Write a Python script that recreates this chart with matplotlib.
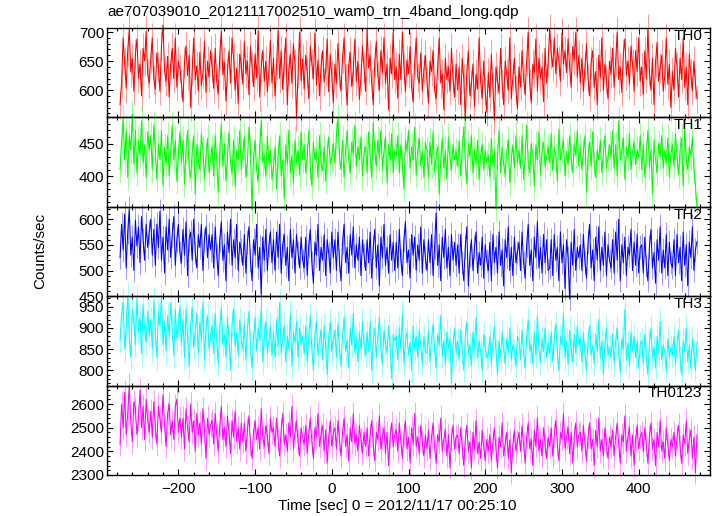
import numpy as np
import matplotlib.pyplot as plt
from matplotlib.ticker import MultipleLocator

plt.rcParams['font.family'] = ['Liberation Sans', 'DejaVu Sans']

title = "ae707039010_20121117002510_wam0_trn_4band_long.qdp"
xlabel = "Time [sec] 0 = 2012/11/17 00:25:10"
ylabel = "Counts/sec"

# time grid of the light curve (seconds from 2012/11/17 00:25:10)
t_start = -276
bin_size = 2
exposure = 1.0

th0 = [575, 612, 690, 648, 603, 668, 705, 631, 654, 598, 662, 688, 620, 645, 590, 672, 650, 701, 628, 612,
       655, 690, 618, 602, 664, 640, 598, 676, 712, 633, 615, 658, 588, 644, 672, 620, 690, 605, 650, 637,
       612, 580, 648, 676, 625, 660, 570, 633, 690, 618, 642, 598, 665, 608, 628, 684, 596, 650, 622, 668,
       640, 603, 672, 615, 594, 660, 702, 626, 648, 581, 630, 668, 612, 690, 655, 600, 638, 577, 662, 645,
       610, 684, 628, 650, 592, 675, 640, 606, 662, 621, 702, 588, 640, 668, 615, 650, 597, 633, 686, 612,
       655, 590, 642, 703, 620, 668, 601, 648, 690, 575, 636, 662, 612, 680, 645, 552, 628, 700, 616, 654,
       602, 660, 632, 585, 676, 645, 620, 698, 608, 652, 590, 640, 668, 614, 633, 688, 597, 662, 625, 578,
       645, 612, 680, 628, 598, 655, 690, 620, 574, 642, 665, 606, 632, 688, 615, 650, 584, 622, 676, 640,
       598, 705, 638, 660, 612, 575, 648, 684, 625, 600, 668, 630, 690, 612, 645, 566, 655, 628, 700, 618,
       640, 586, 662, 618, 700, 640, 597, 652, 628, 675, 605, 580, 648, 690, 622, 612, 664, 598, 635, 660,
       615, 578, 650, 632, 668, 600, 585, 642, 690, 612, 628, 566, 655, 618, 640, 598, 672, 620, 588, 645,
       600, 640, 575, 655, 620, 548, 632, 668, 590, 610, 645, 572, 628, 602, 690, 615, 585, 650, 598, 562,
       630, 588, 662, 606, 548, 640, 618, 595, 672, 612, 575, 650, 628, 600, 690, 585, 622, 655, 602, 568,
       640, 605, 668, 620, 592, 650, 700, 612, 578, 645, 630, 688, 598, 655, 620, 640, 580, 672, 612, 648,
       705, 662, 640, 690, 628, 672, 650, 615, 698, 645, 668, 630, 688, 640, 605, 675, 652, 700, 622, 660,
       612, 655, 598, 640, 680, 620, 590, 648, 668, 605, 632, 575, 660, 622, 690, 600, 645, 618, 585, 650,
       628, 672, 605, 650, 700, 618, 640, 596, 662, 688, 625, 650, 610, 676, 645, 598, 668, 632, 690, 615,
       640, 592, 668, 620, 705, 632, 600, 655, 575, 648, 682, 615, 638, 660, 598, 625, 690, 610, 645, 570,
       632, 600, 672, 640, 588, 655, 618, 690, 605, 640, 575, 662, 628, 598, 650, 612, 585]

th1 = [410, 452, 488, 425, 470, 398, 462, 440, 495, 418, 470, 405, 455, 432, 485, 420, 448, 398, 468, 440,
       462, 410, 478, 438, 395, 450, 425, 470, 385, 445, 418, 462, 400, 440, 478, 425, 455, 392, 432, 468,
       420, 455, 388, 440, 470, 412, 398, 435, 462, 372, 448, 425, 410, 465, 440, 395, 430, 458, 405, 428,
       445, 400, 462, 425, 375, 438, 480, 415, 450, 392, 430, 468, 420, 405, 455, 385, 440, 425, 470, 410,
       435, 460, 398, 420, 475, 440, 348, 428, 455, 410, 392, 445, 485, 420, 432, 400, 462, 418, 440, 395,
       412, 445, 380, 430, 462, 400, 425, 365, 448, 418, 470, 405, 432, 390, 455, 420, 440, 402, 468, 425,
       448, 405, 430, 470, 415, 385, 452, 425, 440, 398, 462, 420, 408, 445, 392, 435, 460, 418, 428, 450,
       420, 462, 488, 430, 410, 455, 398, 440, 470, 425, 405, 452, 435, 478, 415, 445, 425, 460, 400, 438,
       445, 405, 468, 430, 398, 482, 440, 415, 455, 428, 470, 410, 438, 460, 390, 448, 425, 465, 405, 440,
       430, 462, 405, 448, 420, 380, 455, 438, 470, 412, 445, 425, 475, 402, 438, 458, 415, 440, 398, 452,
       440, 398, 452, 418, 468, 405, 430, 445, 372, 425, 458, 412, 440, 395, 460, 428, 410, 448, 425, 438,
       415, 455, 400, 440, 475, 422, 388, 450, 430, 462, 405, 440, 418, 455, 395, 432, 448, 410, 440, 420,
       432, 398, 458, 415, 440, 350, 428, 470, 405, 445, 418, 402, 436, 455, 390, 425, 448, 412, 462, 420,
       440, 412, 462, 395, 430, 478, 420, 405, 450, 432, 385, 448, 425, 468, 402, 438, 452, 415, 430, 445,
       420, 465, 408, 445, 430, 392, 472, 425, 440, 455, 400, 438, 418, 462, 428, 405, 450, 432, 470, 415,
       445, 410, 438, 462, 375, 430, 452, 415, 468, 420, 398, 440, 425, 455, 405, 435, 462, 412, 428, 448,
       430, 470, 412, 448, 400, 485, 425, 440, 458, 395, 445, 428, 465, 410, 438, 452, 418, 440, 428, 462,
       410, 448, 398, 435, 470, 415, 440, 372, 455, 425, 405, 450, 430, 462, 412, 440, 420, 458, 398, 435,
       448, 415, 465, 430, 402, 440, 458, 385, 472, 425, 410, 445, 430, 460, 410, 385, 352]

th2 = [525, 590, 540, 610, 505, 575, 620, 530, 565, 500, 598, 548, 585, 515, 605, 560, 520, 590, 545, 575,
       600, 530, 580, 510, 590, 545, 615, 520, 565, 495, 585, 540, 600, 525, 570, 605, 510, 560, 590, 535,
       515, 580, 530, 595, 490, 560, 575, 520, 600, 535, 505, 570, 545, 590, 500, 560, 585, 525, 570, 540,
       570, 505, 585, 530, 490, 560, 595, 520, 550, 480, 575, 535, 600, 510, 560, 525, 590, 500, 555, 540,
       510, 570, 495, 555, 585, 520, 480, 560, 530, 590, 505, 545, 452, 565, 520, 580, 500, 550, 575, 515,
       560, 500, 575, 525, 590, 495, 550, 570, 510, 545, 480, 580, 525, 560, 495, 570, 535, 505, 565, 520,
       505, 565, 490, 550, 580, 515, 475, 555, 530, 590, 500, 545, 520, 570, 490, 560, 535, 495, 575, 525,
       560, 500, 575, 520, 480, 555, 590, 515, 545, 495, 570, 530, 585, 505, 550, 520, 565, 490, 560, 530,
       500, 560, 515, 575, 485, 545, 580, 505, 550, 470, 565, 525, 590, 510, 545, 495, 570, 520, 555, 500,
       555, 505, 580, 520, 490, 560, 595, 515, 540, 485, 570, 530, 565, 500, 550, 520, 585, 495, 560, 525,
       500, 560, 515, 570, 490, 545, 612, 510, 550, 480, 565, 525, 580, 505, 545, 490, 570, 520, 555, 510,
       550, 495, 570, 515, 480, 545, 585, 470, 530, 560, 500, 545, 575, 495, 535, 510, 565, 485, 550, 520,
       500, 555, 480, 570, 515, 545, 495, 575, 510, 540, 470, 560, 525, 585, 500, 545, 490, 565, 515, 535,
       555, 500, 575, 515, 485, 550, 590, 510, 540, 480, 565, 525, 595, 505, 545, 495, 570, 515, 560, 500,
       505, 560, 490, 570, 520, 545, 480, 575, 515, 550, 465, 560, 525, 445, 555, 510, 580, 500, 545, 525,
       550, 500, 570, 515, 485, 555, 590, 505, 540, 480, 565, 520, 585, 500, 545, 510, 575, 490, 550, 520,
       505, 560, 495, 575, 520, 600, 480, 550, 515, 565, 490, 545, 530, 580, 500, 555, 510, 570, 495, 545,
       550, 495, 565, 510, 480, 545, 580, 505, 535, 475, 560, 520, 585, 495, 540, 505, 570, 490, 555, 515,
       505, 560, 490, 570, 515, 545, 480, 575, 510, 550, 470, 555, 525, 585, 500, 540, 556]

th3 = [870, 935, 960, 850, 905, 975, 880, 830, 945, 915, 860, 970, 890, 925, 840, 955, 900, 865, 940, 880,
       920, 850, 965, 890, 830, 940, 905, 975, 860, 915, 845, 930, 880, 960, 900, 835, 945, 875, 910, 950,
       860, 920, 830, 945, 880, 810, 905, 950, 855, 890, 935, 840, 915, 870, 960, 825, 895, 930, 850, 880,
       905, 840, 935, 870, 815, 900, 950, 860, 885, 830, 925, 875, 800, 910, 945, 855, 890, 835, 920, 870,
       850, 910, 825, 895, 940, 860, 805, 880, 925, 845, 900, 870, 950, 820, 885, 915, 840, 870, 905, 835,
       890, 830, 920, 855, 960, 840, 875, 905, 820, 880, 850, 935, 810, 890, 865, 915, 830, 900, 860, 880,
       840, 905, 820, 880, 930, 850, 800, 885, 915, 835, 870, 895, 825, 905, 860, 790, 880, 915, 845, 870,
       895, 830, 910, 855, 810, 880, 925, 845, 870, 805, 900, 860, 935, 840, 875, 820, 890, 850, 915, 860,
       835, 890, 845, 915, 800, 870, 900, 830, 880, 925, 850, 815, 895, 865, 840, 905, 855, 780, 885, 870,
       880, 825, 900, 850, 935, 815, 870, 890, 835, 865, 800, 905, 850, 880, 830, 895, 860, 815, 880, 845,
       840, 895, 820, 875, 910, 850, 805, 885, 860, 930, 835, 870, 815, 890, 850, 875, 770, 860, 900, 840,
       870, 825, 895, 845, 800, 880, 915, 835, 860, 810, 890, 850, 925, 830, 870, 845, 800, 885, 855, 830,
       835, 880, 815, 865, 905, 845, 790, 870, 830, 890, 850, 815, 875, 840, 900, 825, 860, 845, 810, 880,
       870, 825, 895, 840, 805, 880, 920, 845, 860, 815, 890, 835, 930, 850, 820, 875, 845, 900, 830, 865,
       840, 890, 820, 875, 910, 845, 800, 880, 860, 935, 830, 870, 815, 895, 850, 820, 885, 840, 905, 860,
       875, 820, 890, 840, 800, 870, 905, 835, 860, 815, 885, 845, 920, 830, 870, 790, 865, 900, 835, 855,
       830, 885, 815, 870, 900, 840, 795, 875, 850, 945, 825, 865, 810, 890, 845, 880, 830, 870, 805, 860,
       870, 815, 885, 835, 790, 865, 900, 830, 855, 805, 880, 840, 915, 825, 860, 845, 800, 875, 830, 855,
       835, 880, 815, 860, 895, 830, 790, 870, 845, 900, 820, 860, 805, 875, 840, 800, 866]

th0123 = [2430, 2600, 2500, 2650, 2470, 2560, 2680, 2520, 2440, 2610, 2580, 2470, 2540, 2660, 2500, 2590, 2450, 2620, 2530, 2480,
          2570, 2460, 2610, 2500, 2430, 2590, 2540, 2480, 2640, 2510, 2420, 2560, 2600, 2470, 2530, 2450, 2590, 2620, 2480, 2540,
          2460, 2540, 2410, 2580, 2500, 2440, 2600, 2480, 2530, 2400, 2560, 2470, 2520, 2430, 2580, 2490, 2370, 2540, 2470, 2510,
          2530, 2430, 2560, 2470, 2400, 2510, 2590, 2450, 2500, 2420, 2550, 2480, 2390, 2530, 2460, 2570, 2440, 2500, 2410, 2520,
          2440, 2520, 2400, 2490, 2550, 2430, 2370, 2480, 2530, 2450, 2500, 2410, 2580, 2460, 2420, 2510, 2470, 2390, 2540, 2480,
          2500, 2420, 2540, 2450, 2380, 2490, 2560, 2430, 2470, 2400, 2520, 2460, 2590, 2410, 2480, 2530, 2440, 2380, 2500, 2460,
          2430, 2510, 2390, 2480, 2540, 2440, 2370, 2500, 2460, 2560, 2420, 2470, 2510, 2400, 2490, 2350, 2460, 2530, 2420, 2480,
          2500, 2410, 2530, 2450, 2380, 2480, 2540, 2420, 2470, 2360, 2500, 2440, 2560, 2430, 2470, 2400, 2510, 2450, 2390, 2480,
          2420, 2500, 2380, 2470, 2530, 2430, 2360, 2480, 2450, 2550, 2410, 2460, 2500, 2390, 2480, 2340, 2460, 2520, 2420, 2470,
          2490, 2400, 2520, 2440, 2370, 2470, 2530, 2410, 2460, 2350, 2500, 2430, 2560, 2420, 2460, 2390, 2510, 2440, 2380, 2470,
          2410, 2490, 2370, 2460, 2520, 2420, 2350, 2470, 2440, 2540, 2400, 2450, 2490, 2380, 2470, 2330, 2450, 2510, 2410, 2460,
          2470, 2390, 2500, 2420, 2340, 2450, 2510, 2400, 2440, 2330, 2480, 2410, 2530, 2390, 2440, 2370, 2490, 2420, 2360, 2450,
          2400, 2470, 2360, 2440, 2500, 2410, 2330, 2460, 2420, 2520, 2380, 2430, 2480, 2370, 2450, 2310, 2430, 2490, 2400, 2440,
          2480, 2400, 2510, 2430, 2350, 2460, 2520, 2410, 2450, 2340, 2490, 2420, 2540, 2400, 2450, 2380, 2500, 2430, 2370, 2460,
          2420, 2500, 2380, 2470, 2530, 2430, 2360, 2480, 2450, 2560, 2410, 2460, 2500, 2390, 2480, 2350, 2460, 2520, 2420, 2470,
          2480, 2400, 2510, 2430, 2360, 2460, 2520, 2410, 2450, 2340, 2490, 2420, 2540, 2400, 2450, 2380, 2500, 2430, 2370, 2460,
          2420, 2490, 2380, 2460, 2520, 2430, 2350, 2470, 2440, 2550, 2400, 2460, 2500, 2380, 2470, 2340, 2450, 2510, 2410, 2460,
          2480, 2400, 2500, 2430, 2350, 2460, 2520, 2410, 2450, 2340, 2480, 2420, 2530, 2400, 2440, 2370, 2500, 2430, 2360, 2450,
          2420, 2480, 2380, 2460, 2510, 2420, 2350, 2470, 2430, 2530, 2390, 2450, 2490, 2370, 2460, 2310, 2470]

names = ["TH0", "TH1", "TH2", "TH3", "TH0123"]
series = [th0, th1, th2, th3, th0123]
colors = ["#ff0000", "#00ff00", "#0000ff", "#00ffff", "#ff00ff"]
ylims = [(553, 707), (353, 490), (450, 624), (764, 975), (2300, 2678)]
ymajor = [50, 50, 50, 50, 100]
yminor = [10, 10, 10, 10, 20]

fig = plt.figure(figsize=(7.17, 5.16), dpi=100)
left, right = 107 / 717, 710 / 717
top, bottom = 1 - 28 / 516, 1 - 475 / 516
h = (top - bottom) / 5

for i in range(5):
    ax = fig.add_axes([left, top - (i + 1) * h, right - left, h])
    ax.patch.set_visible(False)
    y = np.array(series[i], dtype=float)
    t = t_start + bin_size * np.arange(len(y))
    err = np.sqrt(y / exposure)
    ax.vlines(t, y - err, y + err, colors=colors[i], alpha=0.4, lw=0.7, clip_on=False)
    ax.plot(t, y, color=colors[i], lw=0.75, clip_on=False)
    ax.set_xlim(-293, 493)
    ax.set_ylim(*ylims[i])
    ax.xaxis.set_major_locator(MultipleLocator(100))
    ax.xaxis.set_minor_locator(MultipleLocator(20))
    ax.yaxis.set_major_locator(MultipleLocator(ymajor[i]))
    ax.yaxis.set_minor_locator(MultipleLocator(yminor[i]))
    ax.tick_params(which='both', direction='in', top=True, right=True,
                   labelsize=11, width=0.8, pad=2)
    ax.tick_params(which='major', length=4.3)
    ax.tick_params(which='minor', length=2.4)
    ax.tick_params(axis='x', pad=5)
    for s in ax.spines.values():
        s.set_linewidth(1.0)
    if i < 4:
        ax.tick_params(labelbottom=False)
    ax.text(0.987, 0.99, names[i], transform=ax.transAxes, ha='right', va='top', fontsize=11)

fig.text(left, 1 - 12 / 516, title, ha='left', va='center', fontsize=11)
fig.text(40 / 717, 1 - 251 / 516, ylabel, rotation=90, ha='center', va='center', fontsize=11)
fig.text(397 / 717, 1 - 506 / 516, xlabel, ha='center', va='center', fontsize=11)

fig.savefig('out.png', dpi=100)
